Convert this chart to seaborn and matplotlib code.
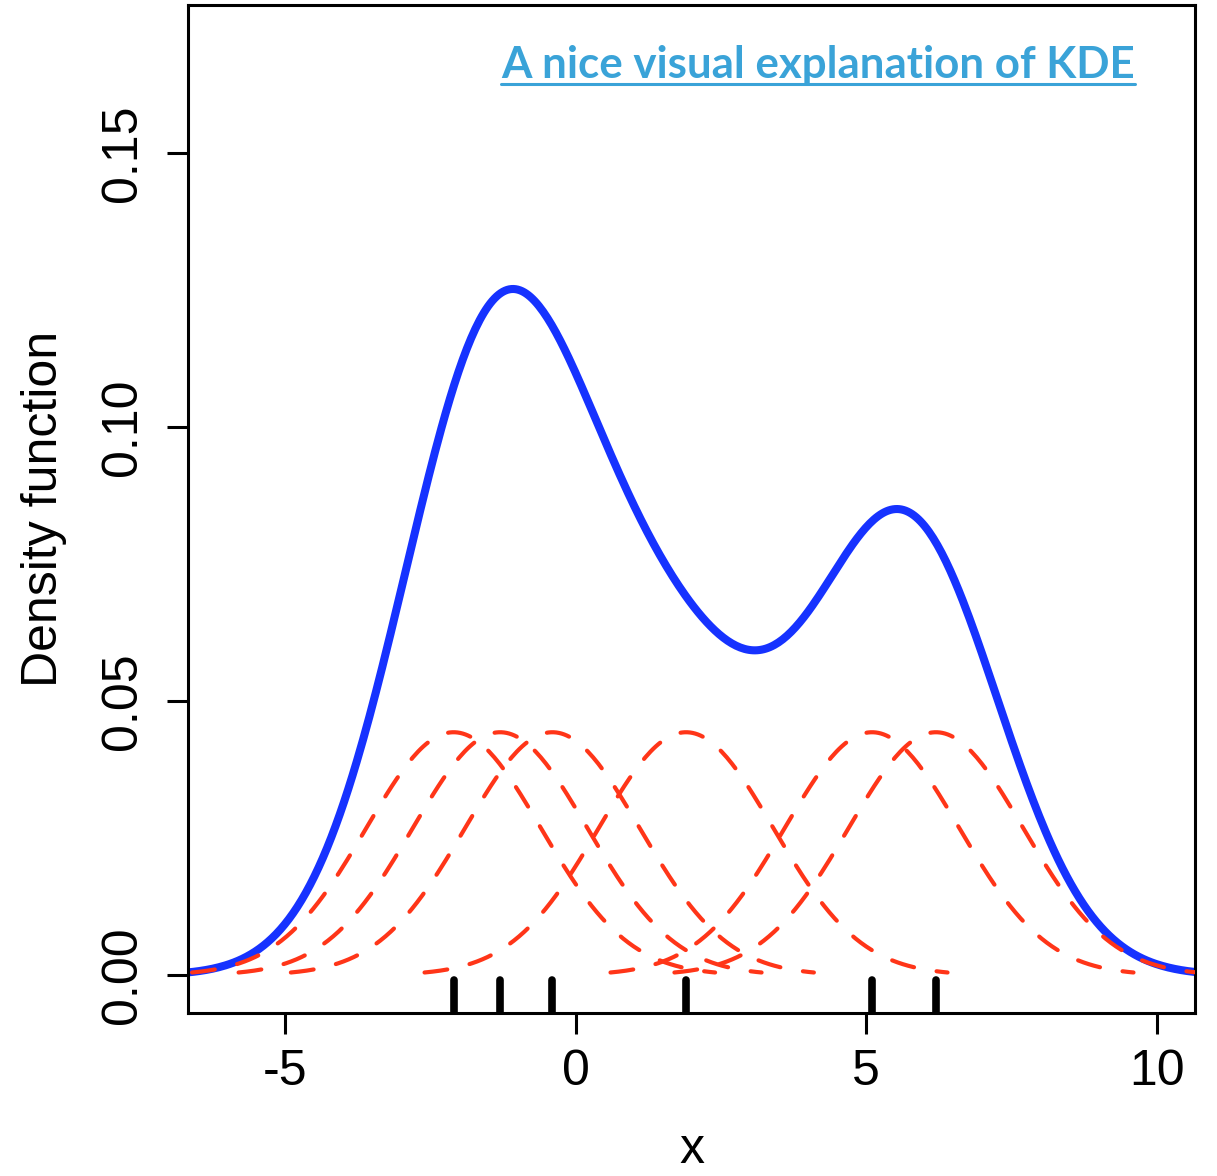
import numpy as np
import pandas as pd
import matplotlib
matplotlib.use("Agg")
import matplotlib.pyplot as plt
import seaborn as sns
from matplotlib.lines import Line2D

# sample points and kernel bandwidth
points = [-2.1, -1.3, -0.4, 1.9, 5.1, 6.2]
bandwidth = 1.5
x_ticks = [-5, 0, 5, 10]
y_ticks = [0.00, 0.05, 0.10, 0.15]

sns.set_style("white")
plt.rcParams["font.family"] = ["Liberation Sans", "DejaVu Sans"]
plt.rcParams["text.color"] = "black"
plt.rcParams["axes.labelcolor"] = "black"
plt.rcParams["xtick.color"] = "black"
plt.rcParams["ytick.color"] = "black"

fig = plt.figure(figsize=(12.17, 11.76), dpi=100)
ax = fig.add_axes([0.1545, 0.1386, 0.8275, 0.8571])

blue = "#1632ff"
red = "#ff3518"

# the summed KDE via seaborn
factor = bandwidth / np.std(points, ddof=1)
sns.kdeplot(x=points, bw_method=factor, cut=3.3, gridsize=500, ax=ax, color=blue, lw=5.8, zorder=2)

# individual kernels (scaled by 1/n), each drawn over +-3 bandwidths
n = len(points)
for p in points:
    xs = np.linspace(p - 3 * bandwidth, p + 3 * bandwidth, 200)
    ys = np.exp(-0.5 * ((xs - p) / bandwidth) ** 2) / (bandwidth * np.sqrt(2 * np.pi)) / n
    sns.lineplot(x=xs, y=ys, ax=ax, color=red, lw=3, sort=False, zorder=3)
    line = ax.lines[-1]
    line.set_linestyle((0, (5.5, 5.5)))
    line.set_dash_capstyle("round")

sns.rugplot(x=points, height=0.033, ax=ax, color="black", linewidth=5.5, zorder=4,
            capstyle="round")

ax.set_xlim(-6.67, 10.66)
ax.set_ylim(-0.0069, 0.177)
ax.set_xticks(x_ticks)
ax.set_xticklabels(["-5", "0", "5", "10"])
ax.set_yticks(y_ticks)
ax.set_yticklabels(["0.00", "0.05", "0.10", "0.15"], rotation=90, va="center")

for s in ax.spines.values():
    s.set_visible(True)
    s.set_color("black")
    s.set_linewidth(2.2)

ax.tick_params(axis="both", which="major", length=15, width=2.2, direction="out",
               labelsize=36, color="black", labelcolor="black", bottom=True, left=True)
ax.tick_params(axis="x", pad=11)
ax.tick_params(axis="y", pad=15)

ax.set_xlabel("x", fontsize=36, labelpad=23)
ax.set_ylabel("Density function", fontsize=36, labelpad=24)

title = ax.text(0.94, 0.9276, "A nice visual explanation of KDE", transform=ax.transAxes,
                ha="right", va="baseline", fontsize=31.6, fontweight="bold",
                color="#3aa3d8", family=["Lato", "DejaVu Sans"])

fig.canvas.draw()
bb = title.get_window_extent(renderer=fig.canvas.get_renderer())
inv = fig.transFigure.inverted()
(x0, _), (x1, _) = inv.transform([(bb.x0, bb.y0), (bb.x1, bb.y0)])
base_y = inv.transform(ax.transAxes.transform((0, 0.9276)))[1] - 6 / 1176
fig.add_artist(Line2D([x0, x1], [base_y, base_y], color="#3aa3d8", lw=2.2))

fig.savefig("out.png", dpi=100)
